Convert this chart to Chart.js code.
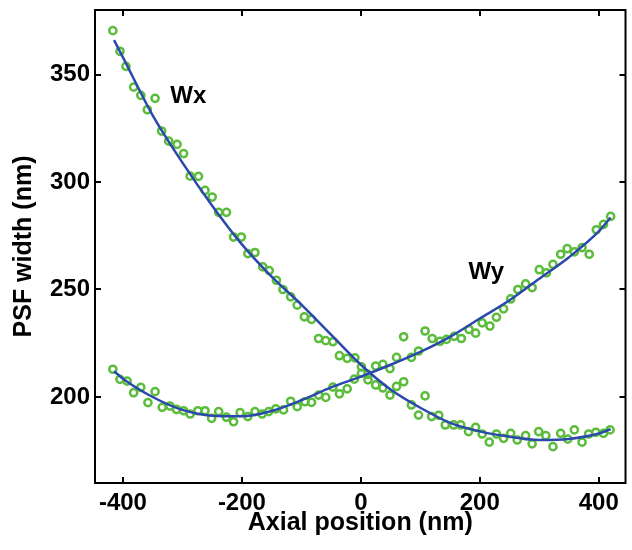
<!DOCTYPE html>
<html>
<head>
<meta charset="utf-8">
<script src="https://cdn.jsdelivr.net/npm/chart.js@4.4.1/dist/chart.umd.min.js"></script>
<style>
  html, body { margin: 0; padding: 0; background: #fff; }
</style>
</head>
<body>
<canvas id="grafico" width="632" height="550"></canvas>
<script>
    // pontos medidos (nm)
    const wxPos = [-417,-405,-395,-382,-370,-359,-346,-335,-323,-309,-298,-287,-273,-262,-250,-239,-226,-214,-201,-190,-178,-165,-154,-142,-131,-118,-107,-95,-83,-71,-59,-47,-36,-23,-10,1,12,25,37,49,60,72,85,97,108,119,131,142,156,168,181,193,204,216,228,240,252,263,277,288,299,311,323,336,348,359,372,383,395,408,419];
    const wxLarg = [370.4,360.8,353.8,344.1,340.3,333.6,338.9,323.7,319,317.5,313.2,302.7,302.6,296.1,293,285.9,285.9,274.4,274.4,266.7,267.2,260.5,258.8,254.3,250,246.6,242.7,237.3,236.1,227.2,226.2,225.7,219.2,218,218.2,214,208,205.6,204.2,200.9,204.9,207.1,196.3,191.6,200.5,190.9,191.5,187,187,187,183.9,185.9,182.8,179,182.8,180.8,183.1,180,182,178.2,183.9,182,176.9,183.1,180.4,184.7,179,182.8,183.6,183.1,184.7];

    const wyPos = [-417,-405,-393,-382,-370,-358,-346,-334,-321,-310,-298,-287,-274,-262,-251,-239,-226,-214,-203,-190,-178,-166,-155,-143,-130,-118,-107,-94,-83,-71,-59,-47,-36,-23,-11,1,12,25,37,49,60,72,85,97,108,120,133,144,157,169,182,193,204,217,228,240,252,264,277,288,300,312,323,336,347,359,372,384,396,408,420];
    const wyLarg = [212.9,208.2,207.4,202,204.5,197.4,202.5,195.2,195.8,194.2,193.6,192.1,193.6,193.6,190.1,193.2,190.6,188.5,192.7,190.9,193.2,192.1,193.2,194.5,194,198,195.5,197.8,197.5,200.9,199.8,204.6,201.5,203.8,208.3,211,210.5,214.4,215.2,213.2,218.4,228,218.4,221.4,230.7,227.2,225.9,226.8,228.2,227.2,231.4,229.7,234.5,233,237.1,241,245.6,250,252.6,250.9,259.2,257.7,261.7,266.4,269,267.5,269.5,266.4,277.8,280.3,284];

    // curvas ajustadas
    const ajustePos = [-415,-400,-350,-300,-250,-200,-150,-100,-50,0,50,100,150,200,250,300,350,400,420];
    const wxAjuste = [366,358,331,309,289,271,256,243,229,215,203.5,195,188,184,181.5,180,180.5,183,185];
    const wyAjuste = [212,208.5,200,194,191.3,191,193.5,198.5,204.5,209.5,215,221,228,236.5,245,255,265,277,283.5];

    const ticksX = [-400,-200,0,200,400];
    const ticksY = [200,250,300,350];
    const rotulos = ['Wx','Wy'];

    const verde = '#5cbd3c';
    const azul = '#2b48ad';
    const fonte = '"Liberation Sans", Arial, Helvetica, sans-serif';

    const pares = (xs, ys) => xs.map((v, i) => ({ x: v, y: ys[i] }));

    const moldura = {
      id: 'moldura',
      afterDraw(chart) {
        const { ctx, chartArea: a, scales: { x, y } } = chart;
        ctx.save();
        ctx.strokeStyle = '#000';
        ctx.lineWidth = 2;
        ctx.strokeRect(a.left, a.top, a.right - a.left, a.bottom - a.top);
        ctx.beginPath();
        ticksX.forEach(v => {
          const px = Math.round(x.getPixelForValue(v));
          ctx.moveTo(px, a.bottom); ctx.lineTo(px, a.bottom - 6);
          ctx.moveTo(px, a.top); ctx.lineTo(px, a.top + 6);
        });
        ticksY.forEach(v => {
          const py = Math.round(y.getPixelForValue(v));
          ctx.moveTo(a.left, py); ctx.lineTo(a.left + 6, py);
          ctx.moveTo(a.right, py); ctx.lineTo(a.right - 6, py);
        });
        ctx.stroke();

        ctx.fillStyle = '#000';
        ctx.font = 'bold 24px ' + fonte;
        ctx.textAlign = 'center';
        ctx.textBaseline = 'middle';
        ctx.fillText(rotulos[0], x.getPixelForValue(-290), y.getPixelForValue(340));
        ctx.fillText(rotulos[1], x.getPixelForValue(211), y.getPixelForValue(258));
        ctx.restore();
      }
    };

    const ctx = document.getElementById('grafico').getContext('2d');
    const grafico = new Chart(ctx, {
      type: 'scatter',
      data: {
        datasets: [
          {
            type: 'line', label: 'Wx ajuste', data: pares(ajustePos, wxAjuste),
            borderColor: azul, borderWidth: 2.5, pointRadius: 0, fill: false,
            cubicInterpolationMode: 'monotone', order: 0
          },
          {
            type: 'line', label: 'Wy ajuste', data: pares(ajustePos, wyAjuste),
            borderColor: azul, borderWidth: 2.5, pointRadius: 0, fill: false,
            cubicInterpolationMode: 'monotone', order: 0
          },
          {
            label: 'Wx', data: pares(wxPos, wxLarg),
            borderColor: verde, backgroundColor: 'rgba(0,0,0,0)',
            pointRadius: 3.6, borderWidth: 2.5, order: 1
          },
          {
            label: 'Wy', data: pares(wyPos, wyLarg),
            borderColor: verde, backgroundColor: 'rgba(0,0,0,0)',
            pointRadius: 3.6, borderWidth: 2.5, order: 1
          }
        ]
      },
      options: {
        responsive: false,
        animation: false,
        devicePixelRatio: 1,
        layout: { padding: { top: 10, right: 4, left: 0, bottom: 0 } },
        plugins: { legend: { display: false }, tooltip: { enabled: false } },
        scales: {
          x: {
            type: 'linear', min: -447, max: 445,
            afterBuildTicks: s => { s.ticks = ticksX.map(v => ({ value: v })); },
            afterFit: s => { s.height = 67; s.paddingLeft = 0; s.paddingRight = 0; },
            grid: { display: false, drawTicks: false },
            border: { display: false },
            ticks: { padding: 6, color: '#000', font: { family: fonte, size: 24, weight: 'bold' } },
            title: {
              display: true, text: 'Axial position (nm)', color: '#000',
              font: { family: fonte, size: 25, weight: 'bold' },
              padding: { top: 0, bottom: 12 }
            }
          },
          y: {
            type: 'linear', min: 160, max: 380,
            afterBuildTicks: s => { s.ticks = ticksY.map(v => ({ value: v })); },
            afterFit: s => { s.width = 95; s.paddingTop = 0; s.paddingBottom = 0; },
            grid: { display: false, drawTicks: false },
            border: { display: false },
            ticks: { padding: 5, color: '#000', font: { family: fonte, size: 24, weight: 'bold' } },
            title: {
              display: true, text: 'PSF width (nm)', color: '#000',
              font: { family: fonte, size: 25, weight: 'bold' },
              padding: { top: 9, bottom: 0 }
            }
          }
        }
      },
      plugins: [moldura]
    });
</script>
</body>
</html>
